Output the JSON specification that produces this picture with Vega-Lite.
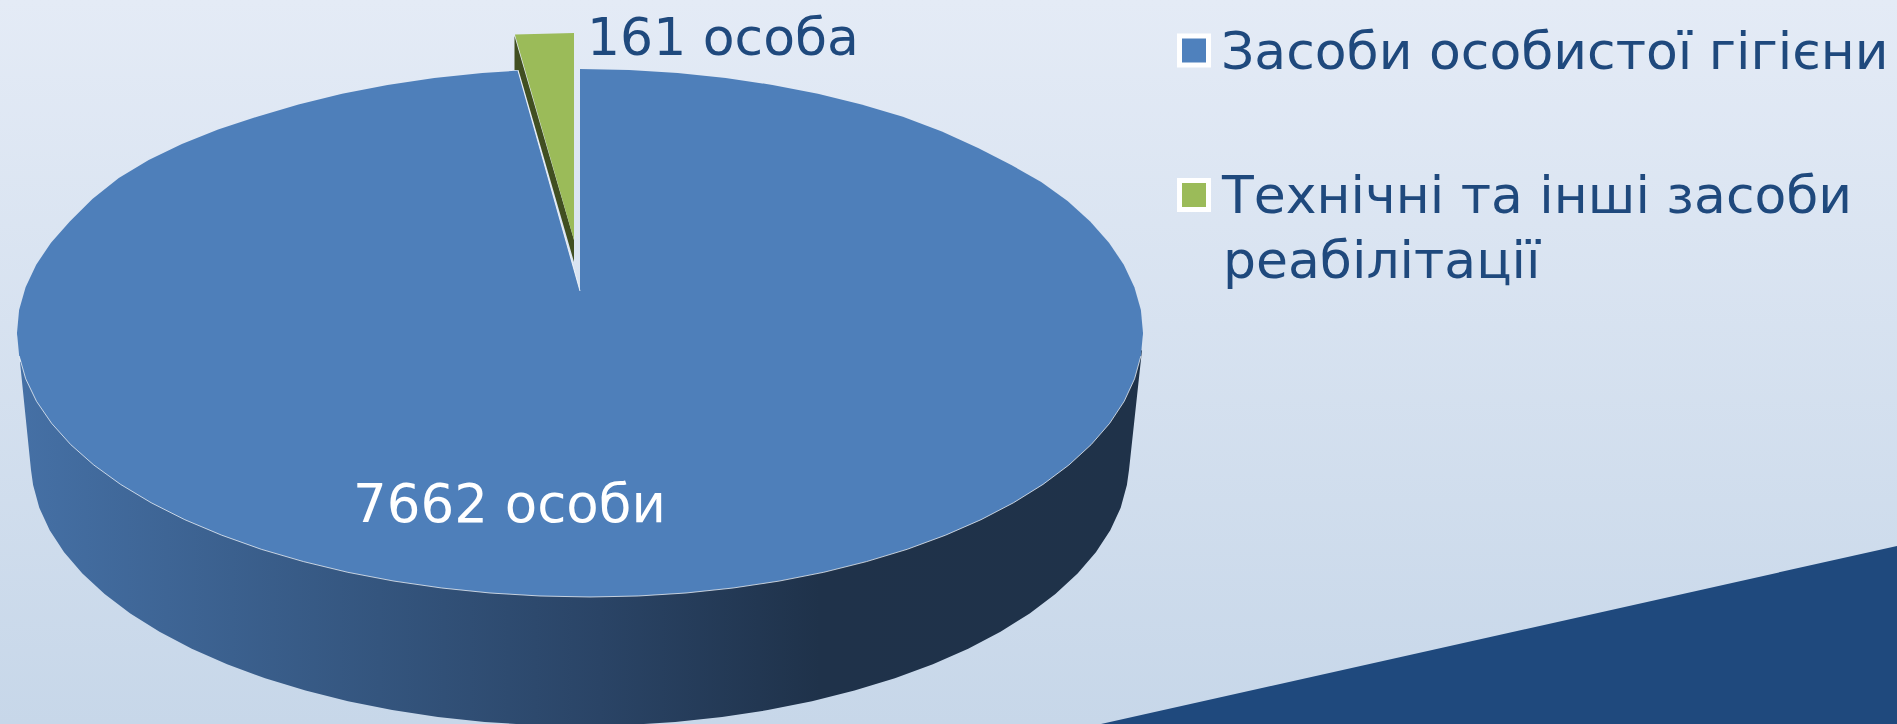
{"$schema":"https://vega.github.io/schema/vega-lite/v6.json","width":1897,"height":724,"padding":0,"autosize":{"type":"fit","contains":"padding"},
"config":{"view":{"stroke":null,"fill":{"gradient":"linear","x1":0,"y1":0,"x2":0,"y2":1,"stops":[{"offset":0,"color":"#e4ebf6"},{"offset":1,"color":"#c7d7e9"}]}}},
"datasets":{
"side":[{"x":20,"top":362,"bottom":362},{"x":31,"top":360,"bottom":470},{"x":33.1,"top":360,"bottom":485},{"x":39.3,"top":360,"bottom":507.8},{"x":49.7,"top":360,"bottom":530.3},{"x":64.1,"top":360,"bottom":552.3},{"x":82.4,"top":360,"bottom":573.6},{"x":104.6,"top":360,"bottom":594},{"x":130.3,"top":360,"bottom":613.4},{"x":159.5,"top":360,"bottom":631.7},{"x":191.8,"top":360,"bottom":648.7},{"x":227.1,"top":360,"bottom":664.2},{"x":265.1,"top":360,"bottom":678.3},{"x":305.5,"top":360,"bottom":690.6},{"x":348,"top":360,"bottom":701.3},{"x":392.2,"top":360,"bottom":710.1},{"x":437.9,"top":360,"bottom":717},{"x":484.7,"top":360,"bottom":722},{"x":532.1,"top":360,"bottom":725},{"x":580,"top":360,"bottom":726},{"x":627.9,"top":360,"bottom":725},{"x":675.3,"top":360,"bottom":722},{"x":722.1,"top":360,"bottom":717},{"x":767.8,"top":360,"bottom":710.1},{"x":812,"top":360,"bottom":701.3},{"x":854.5,"top":360,"bottom":690.6},{"x":894.9,"top":360,"bottom":678.3},{"x":932.9,"top":360,"bottom":664.2},{"x":968.2,"top":360,"bottom":648.7},{"x":1000.5,"top":360,"bottom":631.7},{"x":1029.7,"top":360,"bottom":613.4},{"x":1055.4,"top":360,"bottom":594},{"x":1077.6,"top":360,"bottom":573.6},{"x":1095.9,"top":360,"bottom":552.3},{"x":1110.3,"top":360,"bottom":530.3},{"x":1120.7,"top":360,"bottom":507.8},{"x":1126.9,"top":360,"bottom":485},{"x":1129,"top":360,"bottom":470},{"x":1142,"top":350,"bottom":350}],
"blueLeft":[{"x":17,"top":333,"bottom":333},{"x":19.1,"top":310,"bottom":340},{"x":25.6,"top":287.2,"bottom":340},{"x":36.2,"top":264.7,"bottom":340},{"x":51,"top":242.7,"bottom":340},{"x":69.8,"top":221.4,"bottom":340},{"x":92.4,"top":199,"bottom":340},{"x":118.8,"top":178,"bottom":340},{"x":148.7,"top":160,"bottom":340},{"x":181.9,"top":144,"bottom":340},{"x":218.1,"top":129.5,"bottom":340},{"x":257.1,"top":116.7,"bottom":340},{"x":298.5,"top":104.4,"bottom":340},{"x":342.1,"top":93.7,"bottom":340},{"x":387.5,"top":84.9,"bottom":340},{"x":434.3,"top":78,"bottom":340},{"x":482.3,"top":73,"bottom":340},{"x":518,"top":70.6,"bottom":340},{"x":545,"top":166.6,"bottom":340},{"x":565,"top":237.7,"bottom":340},{"x":580,"top":291,"bottom":340}],
"blueRight":[{"x":580,"top":69,"bottom":340},{"x":629.1,"top":70,"bottom":340},{"x":677.7,"top":73,"bottom":340},{"x":725.7,"top":78,"bottom":340},{"x":772.5,"top":84.9,"bottom":340},{"x":817.9,"top":93.7,"bottom":340},{"x":861.5,"top":104.4,"bottom":340},{"x":902.9,"top":116.7,"bottom":340},{"x":941.9,"top":131.5,"bottom":340},{"x":978.1,"top":148,"bottom":340},{"x":1011.3,"top":165,"bottom":340},{"x":1041.2,"top":182,"bottom":340},{"x":1067.6,"top":201,"bottom":340},{"x":1090.2,"top":221.4,"bottom":340},{"x":1109,"top":242.7,"bottom":340},{"x":1123.8,"top":264.7,"bottom":340},{"x":1134.4,"top":287.2,"bottom":340},{"x":1140.9,"top":310,"bottom":340},{"x":1143,"top":333,"bottom":333}],
"blueLower":[{"x":17,"top":333,"bottom":333},{"x":19.2,"top":330,"bottom":356},{"x":25.7,"top":330,"bottom":378.8},{"x":36.5,"top":330,"bottom":401.3},{"x":51.6,"top":330,"bottom":423.3},{"x":70.7,"top":330,"bottom":444.6},{"x":93.8,"top":330,"bottom":465},{"x":120.6,"top":330,"bottom":484.4},{"x":151.1,"top":330,"bottom":502.7},{"x":184.8,"top":330,"bottom":519.7},{"x":221.7,"top":330,"bottom":535.2},{"x":261.3,"top":330,"bottom":549.3},{"x":303.5,"top":330,"bottom":561.6},{"x":347.8,"top":330,"bottom":572.3},{"x":394,"top":330,"bottom":581.1},{"x":441.7,"top":330,"bottom":588},{"x":490,"top":330,"bottom":593},{"x":540,"top":330,"bottom":596},{"x":590,"top":330,"bottom":597},{"x":638.2,"top":330,"bottom":596},{"x":686,"top":330,"bottom":593},{"x":733.1,"top":330,"bottom":588},{"x":779.1,"top":330,"bottom":581.1},{"x":823.7,"top":330,"bottom":572.3},{"x":866.5,"top":330,"bottom":561.6},{"x":907.2,"top":330,"bottom":549.3},{"x":945.5,"top":330,"bottom":535.2},{"x":981,"top":330,"bottom":519.7},{"x":1013.6,"top":330,"bottom":502.7},{"x":1043,"top":330,"bottom":484.4},{"x":1068.9,"top":330,"bottom":465},{"x":1091.2,"top":330,"bottom":444.6},{"x":1109.7,"top":330,"bottom":423.3},{"x":1124.2,"top":330,"bottom":401.3},{"x":1134.6,"top":330,"bottom":378.8},{"x":1140.9,"top":330,"bottom":356},{"x":1143,"top":333,"bottom":333}],
"notchEdge":[{"x":518,"top":70.6},{"x":580,"top":291}],
"greenSide":[{"x":514.5,"top":36,"bottom":70},{"x":518.5,"top":50,"bottom":70},{"x":574,"top":240,"bottom":262}],
"green":[{"x":515,"top":34.5,"bottom":35},{"x":574,"top":33,"bottom":240}],
"corner":[{"x":1101,"top":724,"bottom":724},{"x":1897,"top":546,"bottom":724}],
"swatches":[{"x":1194,"top":50.5,"category":"Засоби особистої гігієни"},{"x":1194,"top":195,"category":"Технічні та інші засоби реабілітації"}],
"darkText":[{"x":587,"top":55,"label":"161 особа"},{"x":1221,"top":69,"label":"Засоби особистої гігієни"},{"x":1222,"top":213,"label":"Технічні та інші засоби"},{"x":1223,"top":278,"label":"реабілітації"}],
"whiteText":[{"x":353,"top":522,"label":"7662 особи"}]},
"encoding":{"x":{"field":"x","type":"quantitative","axis":null,"scale":{"domain":[0,1897],"nice":false,"zero":false}},"y":{"field":"top","type":"quantitative","axis":null,"scale":{"domain":[0,724],"reverse":true,"nice":false,"zero":false}}},
"layer":[
{"data":{"name":"corner"},"mark":{"type":"area","orient":"vertical","clip":true,"color":"#1f497d"},"encoding":{"y2":{"field":"bottom"}}},
{"data":{"name":"side"},"mark":{"type":"area","orient":"vertical","clip":true,"color":{"gradient":"linear","x1":0,"y1":0,"x2":1,"y2":0,"stops":[{"offset":0,"color":"#4570a5"},{"offset":0.32,"color":"#34557e"},{"offset":0.517,"color":"#2a4466"},{"offset":0.713,"color":"#1f324a"},{"offset":1,"color":"#1f3249"}]}},"encoding":{"y2":{"field":"bottom"}}},
{"data":{"name":"blueLower"},"mark":{"type":"area","orient":"vertical","color":"#4e7fba"},"encoding":{"y2":{"field":"bottom"}}},
{"data":{"name":"blueLeft"},"mark":{"type":"area","orient":"vertical","color":"#4e7fba"},"encoding":{"y2":{"field":"bottom"}}},
{"data":{"name":"blueRight"},"mark":{"type":"area","orient":"vertical","color":"#4e7fba"},"encoding":{"y2":{"field":"bottom"}}},
{"data":{"name":"blueLower"},"transform":[{"filter":"datum.x>=19 && datum.x<=1142"}],"mark":{"type":"line","color":"#ffffff","strokeWidth":1,"opacity":0.7},"encoding":{"y":{"field":"bottom","type":"quantitative"}}},
{"data":{"name":"notchEdge"},"mark":{"type":"line","color":"#ffffff","strokeWidth":1,"opacity":0.8}},
{"data":{"name":"greenSide"},"mark":{"type":"area","orient":"vertical","color":"#414f21"},"encoding":{"y2":{"field":"bottom"}}},
{"data":{"name":"green"},"mark":{"type":"area","orient":"vertical","color":"#9bbb59"},"encoding":{"y2":{"field":"bottom"}}},
{"data":{"name":"swatches"},"mark":{"type":"square","size":841,"stroke":"#ffffff","strokeWidth":5,"opacity":1},"encoding":{"fill":{"field":"category","type":"nominal","legend":null,"scale":{"domain":["Засоби особистої гігієни","Технічні та інші засоби реабілітації"],"range":["#4f81bd","#9bbb59"]}}}},
{"data":{"name":"darkText"},"mark":{"type":"text","align":"left","baseline":"alphabetic","font":"DejaVu Sans","fontSize":52,"color":"#1f497d"},"encoding":{"text":{"field":"label"}}},
{"data":{"name":"whiteText"},"mark":{"type":"text","align":"left","baseline":"alphabetic","font":"DejaVu Sans","fontSize":53,"color":"#ffffff"},"encoding":{"text":{"field":"label"}}}
]}
